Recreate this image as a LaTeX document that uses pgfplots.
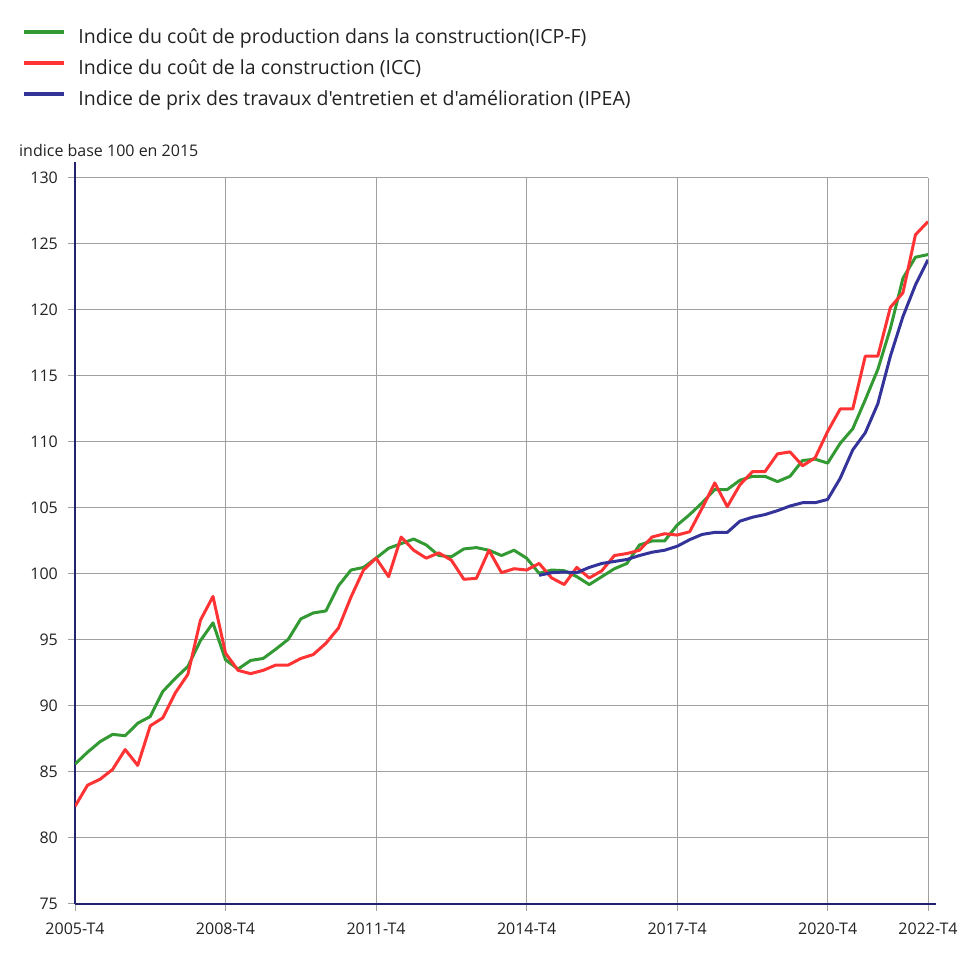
\documentclass[border=0pt]{standalone}
\usepackage{fontspec}
\setmainfont{Open Sans}[Ligatures=TeXOff]
\usepackage{pgfplots}
\pgfplotsset{compat=1.18}
\definecolor{cgreen}{RGB}{51,153,51}
\definecolor{cred}{RGB}{255,51,51}
\definecolor{cblue}{RGB}{51,51,153}
\definecolor{caxis}{RGB}{34,34,110}
\definecolor{cgrid}{RGB}{160,160,160}
\definecolor{ctext}{RGB}{34,34,34}
\begin{document}
\begin{tikzpicture}
\path[use as bounding box] (0,0) rectangle (977bp,977bp);
\begin{axis}[
  at={(75bp,73bp)}, anchor=south west,
  scale only axis, width=853bp, height=726bp,
  xmin=0, xmax=68, ymin=75, ymax=130,
  axis x line=bottom, axis y line=left,
  axis line style={caxis, line width=2bp, -},
  x axis line style={shorten >=-8bp},
  y axis line style={shorten >=-16bp},
  xtick={0,12,24,36,48,60,68},
  xticklabels={2005-T4,2008-T4,2011-T4,2014-T4,2017-T4,2020-T4,2022-T4},
  ytick={75,80,...,130},
  grid=major,
  major grid style={cgrid, line width=1bp},
  tick align=outside, major tick length=7bp,
  tick style={cgrid, line width=1bp},
  ticklabel style={font=\fontsize{16bp}{19bp}\selectfont, text=ctext},
  /pgf/number format/assume math mode=true,
  yticklabel style={inner sep=0pt, xshift=-10bp},
  xticklabel style={inner sep=0pt, yshift=-12bp},
  legend style={at={(-0.0621,1.2052)}, anchor=north west, draw=none, fill=none, inner sep=0pt,
    font=\fontsize{19.5bp}{23bp}\selectfont, text=ctext, row sep=13bp,
    nodes={inner sep=0pt, text height=14bp, text depth=4bp}},
  legend cell align=left,
  legend image code/.code={\draw[#1, line width=3.5bp] (0bp,6bp) -- (40bp,6bp); \path (53bp,6bp);},
  every axis plot/.append style={line width=3bp, line join=round},
]
\addplot[cgreen] coordinates {
(0,85.6) (1,86.5) (2,87.3) (3,87.85) (4,87.75) (5,88.7) (6,89.2) (7,91.1) (8,92.1) (9,93.0)
(10,94.95) (11,96.3) (12,93.5) (13,92.8) (14,93.45) (15,93.6) (16,94.3) (17,95.05) (18,96.6) (19,97.05)
(20,97.2) (21,99.1) (22,100.3) (23,100.5) (24,101.2) (25,101.95) (26,102.3) (27,102.65) (28,102.2) (29,101.4)
(30,101.3) (31,101.9) (32,102.0) (33,101.8) (34,101.4) (35,101.8) (36,101.2) (37,100.05) (38,100.3) (39,100.25)
(40,99.8) (41,99.2) (42,99.8) (43,100.4) (44,100.8) (45,102.2) (46,102.5) (47,102.5) (48,103.7) (49,104.5)
(50,105.4) (51,106.4) (52,106.4) (53,107.1) (54,107.4) (55,107.4) (56,107.0) (57,107.4) (58,108.6) (59,108.7)
(60,108.4) (61,109.9) (62,111.0) (63,113.2) (64,115.5) (65,118.6) (66,122.4) (67,124.0) (68,124.2)
};
\addlegendentry{Indice du coût de production dans la construction(ICP-F)}
\addplot[cred] coordinates {
(0,82.4) (1,84.0) (2,84.45) (3,85.2) (4,86.7) (5,85.5) (6,88.5) (7,89.1) (8,91.0) (9,92.4)
(10,96.5) (11,98.3) (12,94.0) (13,92.7) (14,92.45) (15,92.7) (16,93.1) (17,93.1) (18,93.6) (19,93.9)
(20,94.75) (21,95.9) (22,98.25) (23,100.3) (24,101.2) (25,99.8) (26,102.8) (27,101.8) (28,101.2) (29,101.6)
(30,101.05) (31,99.6) (32,99.67) (33,101.8) (34,100.1) (35,100.4) (36,100.3) (37,100.8) (38,99.7) (39,99.2)
(40,100.5) (41,99.7) (42,100.25) (43,101.4) (44,101.55) (45,101.8) (46,102.8) (47,103.05) (48,102.95) (49,103.2)
(50,105.0) (51,106.9) (52,105.1) (53,106.75) (54,107.75) (55,107.75) (56,109.1) (57,109.25) (58,108.2) (59,108.8)
(60,110.8) (61,112.5) (62,112.5) (63,116.5) (64,116.5) (65,120.2) (66,121.3) (67,125.7) (68,126.7)
};
\addlegendentry{Indice du coût de la construction (ICC)}
\addplot[cblue] coordinates {
(37,99.9) (38,100.1) (39,100.15)
(40,100.1) (41,100.5) (42,100.8) (43,100.95) (44,101.1) (45,101.4) (46,101.65) (47,101.8) (48,102.1) (49,102.6)
(50,103.0) (51,103.15) (52,103.15) (53,104.0) (54,104.3) (55,104.5) (56,104.8) (57,105.15) (58,105.4) (59,105.4)
(60,105.65) (61,107.25) (62,109.4) (63,110.7) (64,112.9) (65,116.5) (66,119.5) (67,121.9) (68,123.8)
};
\addlegendentry{Indice de prix des travaux d'entretien et d'amélioration (IPEA)}
\end{axis}
\node[anchor=base west, inner sep=0pt, font=\fontsize{16bp}{19bp}\selectfont, text=ctext] at (19bp,820bp) {indice base 100 en 2015};
\end{tikzpicture}
\end{document}
